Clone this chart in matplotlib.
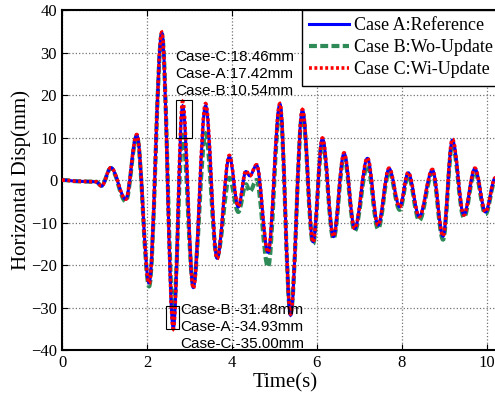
import matplotlib
matplotlib.use("Agg")
import matplotlib.pyplot as plt
from matplotlib.path import Path
from matplotlib.patches import Rectangle, PathPatch

t = [0.00, 0.40, 0.80, 0.93, 1.15, 1.50, 1.76, 2.05, 2.35, 2.62, 2.84, 3.09, 3.38, 3.65,
     3.94, 4.15, 4.33, 4.42, 4.58, 4.85, 5.13, 5.38, 5.66, 5.91, 6.13, 6.39, 6.64, 6.89,
     7.19, 7.44, 7.70, 7.95, 8.15, 8.41, 8.72, 8.97, 9.19, 9.46, 9.72, 9.97, 10.20]
case_a = [0.0, -0.3, -0.4, -1.4, 2.9, -4.5, 10.6, -24.2, 34.6, -34.93, 17.42, -25.3, 17.5, -18.4,
          5.5, -6.3, 2.0, 1.0, 3.5, -17.0, 17.9, -31.8, 16.5, -14.5, 9.8, -13.3, 6.3, -11.4,
          5.1, -10.6, 2.7, -6.3, 1.7, -8.6, 2.4, -13.2, 9.4, -8.2, 2.7, -7.5, 0.5]
case_b = [0.0, -0.3, -0.4, -1.3, 2.8, -5.0, 10.3, -25.0, 34.3, -31.48, 10.54, -24.5, 11.0, -18.0,
          0.5, -7.5, -1.0, -2.7, 0.0, -20.4, 16.8, -31.5, 15.8, -15.0, 9.0, -13.8, 5.5, -12.0,
          3.5, -11.5, 2.0, -7.0, 1.0, -9.5, 1.8, -14.0, 8.5, -8.8, 2.0, -8.0, 0.0]
case_c = [0.0, -0.3, -0.4, -1.4, 2.9, -4.5, 10.7, -24.3, 34.8, -35.00, 18.46, -25.5, 18.0, -18.5,
          5.8, -6.2, 2.2, 1.0, 3.6, -17.0, 18.0, -31.5, 16.6, -14.6, 9.9, -13.3, 6.4, -11.4,
          5.2, -10.6, 2.8, -6.3, 1.8, -8.6, 2.5, -13.2, 9.6, -8.2, 2.8, -7.5, 0.5]

labels = ["Case A:Reference", "Case B:Wo-Update", "Case C:Wi-Update"]
top_notes = ["Case-C:18.46mm", "Case-A:17.42mm", "Case-B:10.54mm"]
bottom_notes = ["Case-B:-31.48mm", "Case-A:-34.93mm", "Case-C:-35.00mm"]
xticks = [0, 2, 4, 6, 8, 10]
yticks = [-40, -30, -20, -10, 0, 10, 20, 30, 40]

serif = ["Liberation Serif", "DejaVu Serif"]
sans = ["Liberation Sans", "DejaVu Sans"]


def smooth(x, y, k=0.36):
    # bezier through the turning points, flat tangent at each one
    verts = [(x[0], y[0])]
    codes = [Path.MOVETO]
    for i in range(len(x) - 1):
        d = (x[i + 1] - x[i]) * k
        verts += [(x[i] + d, y[i]), (x[i + 1] - d, y[i + 1]), (x[i + 1], y[i + 1])]
        codes += [Path.CURVE4] * 3
    return Path(verts, codes)


fig = plt.figure(figsize=(4.95, 3.98), dpi=100)
ax = fig.add_axes([0.1253, 0.1206, 0.901, 0.854])

styles = [
    (case_a, dict(color="blue", lw=2.2, ls="-"), 3),
    (case_b, dict(color="#2E8B57", lw=3.0, ls=(0, (1.9, 0.8))), 2),
    (case_c, dict(color="red", lw=2.6, ls=(0, (0.8, 0.7))), 4),
]
handles = []
for (y, st, z), lab in zip(styles, labels):
    ax.add_patch(PathPatch(smooth(t, y), fill=False, ec=st["color"], lw=st["lw"],
                           ls=st["ls"], zorder=z))
    h, = ax.plot([], [], color=st["color"], lw=st["lw"], ls=st["ls"], label=lab)
    handles.append(h)

ax.set_xlim(0, 10.5)
ax.set_ylim(-40, 40)
ax.set_xticks(xticks)
ax.set_yticks(yticks)
ax.grid(True, color="0.45", ls=":", lw=0.9)
ax.tick_params(direction="in", top=True, right=True, length=4, labelsize=12)
for lab in ax.get_xticklabels() + ax.get_yticklabels():
    lab.set_family(serif)
for s in ax.spines.values():
    s.set_linewidth(1.5)

ax.set_xlabel("Time(s)", family=serif, fontsize=15, labelpad=2)
ax.set_ylabel("Horizontal Disp(mm)", family=serif, fontsize=15, labelpad=0)

# marked peaks
ax.add_patch(Rectangle((2.675, 10.0), 0.385, 8.8, fill=False, ec="black", lw=0.8, zorder=5))
ax.add_patch(Rectangle((2.44, -35.1), 0.31, 5.5, fill=False, ec="black", lw=0.8, zorder=5))
for i, s in enumerate(top_notes):
    ax.text(2.66, 28.9 - 4.0 * i, s, family=sans, fontsize=11, va="center", ha="left", zorder=6)
for i, s in enumerate(bottom_notes):
    ax.text(2.78, -30.6 - 4.0 * i, s, family=sans, fontsize=11, va="center", ha="left", zorder=6)

leg = ax.legend(handles=handles, loc="upper right", bbox_to_anchor=(500 / 495, 1 - 10 / 398),
                bbox_transform=fig.transFigure, prop={"family": serif, "size": 13},
                fancybox=False, framealpha=1, edgecolor="black", borderaxespad=0.0,
                handlelength=2.2, handletextpad=0.28, labelspacing=0.28, borderpad=0.4)
leg.get_frame().set_linewidth(1.0)
leg.set_zorder(10)

fig.savefig("out.png", dpi=100)
